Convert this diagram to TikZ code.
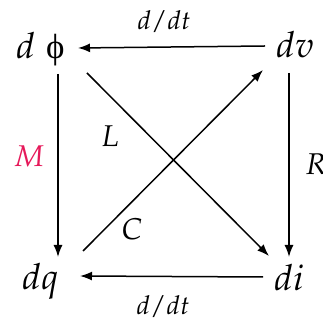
\documentclass[tikz,border=0pt]{standalone}
\usepackage{mathpazo}
\usepackage{fontspec}
\newfontfamily\phifont{Liberation Serif}
\usetikzlibrary{arrows.meta}
\definecolor{mred}{HTML}{E6195A}
\begin{document}
\begin{tikzpicture}[x=1pt,y=1pt,
  vtx/.style={font=\fontsize{36}{38}\selectfont, inner sep=0pt, anchor=base west},
  dlab/.style={font=\fontsize{26}{28}\selectfont, inner sep=0pt, anchor=base},
  elab/.style={font=\fontsize{30}{32}\selectfont, inner sep=0pt, anchor=base},
  arr/.style={line width=1.5pt, -{Latex[length=12pt,width=9pt]}}]
\useasboundingbox (0,0) rectangle (322,328);
\node[vtx] (phi) at (16,269) {$d$\hspace{11pt}{\phifont\fontsize{35}{37}\selectfont ϕ}};
\node[vtx] (dv) at (276,270) {$dv$};
\node[vtx] (dq) at (22,38) {$dq$};
\node[vtx] (di) at (274,37) {$di$};
\node[dlab] (dt1) at (164,298) {$d/dt$};
\node[dlab] (dt2) at (163,13) {$d/dt$};
\node[elab, text=mred] (M) at (29,161) {$M$};
\node[elab] (L) at (110,181) {$L$};
\node[elab] (C) at (132,88) {$C$};
\node[elab, anchor=base west] (R) at (305,153) {$R$};
\draw[arr] ([shift={(-11pt,12pt)}]dv.base west) -- ([shift={(62pt,11pt)}]phi.base west);
\draw[arr] ([shift={(-11pt,14pt)}]di.base west) -- ([shift={(58pt,14pt)}]dq.base west);
\draw[arr] ([shift={(42pt,-15pt)}]phi.base west) -- ([shift={(36pt,33pt)}]dq.base west);
\draw[arr] ([shift={(13pt,-15pt)}]dv.base west) -- ([shift={(15pt,34pt)}]di.base west);
\draw[arr] ([shift={(71pt,-14pt)}]phi.base west) -- ([shift={(-5pt,35pt)}]di.base west);
\draw[arr] ([shift={(61pt,39pt)}]dq.base west) -- ([shift={(-13pt,-12pt)}]dv.base west);
\end{tikzpicture}
\end{document}
